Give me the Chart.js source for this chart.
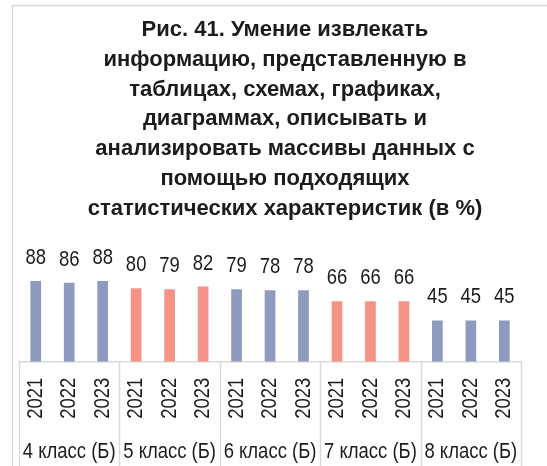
<!DOCTYPE html>
<html lang="ru">
<head>
<meta charset="utf-8">
<title>Рис. 41</title>
<script src="https://cdn.jsdelivr.net/npm/chart.js@4/dist/chart.umd.min.js"></script>
<style>
  html, body { margin: 0; padding: 0; background: #ffffff; }
  #wrap { width: 547px; height: 466px; position: relative; }
</style>
</head>
<body>
<div id="wrap"><canvas id="chart" width="547" height="466"></canvas></div>
<script>
// Classes (outer axis level) and survey years (inner axis level)
const groups = ['4 класс (Б)', '5 класс (Б)', '6 класс (Б)', '7 класс (Б)', '8 класс (Б)'];
const years = ['2021', '2022', '2023'];
// Share of students (%) for each class, by year
const values = [
  88, 86, 88,
  80, 79, 82,
  79, 78, 78,
  66, 66, 66,
  45, 45, 45
];
const titleLines = [
  'Рис. 41. Умение извлекать',
  'информацию, представленную в',
  'таблицах, схемах, графиках,',
  'диаграммах, описывать и',
  'анализировать массивы данных с',
  'помощью подходящих',
  'статистических характеристик (в %)'
];

const FONT = "'Liberation Sans', Arial, sans-serif";
const NARROW = 0.84;           // horizontal squeeze for a condensed look of axis/value text
const groupColors = ['#8F9BBE', '#F69387'];
const gridGrey = '#d9d9d9';
const textColor = '#1c1c1c';

const yearLabels = [];
const barColors = [];
groups.forEach((g, gi) => {
  years.forEach(y => {
    yearLabels.push(y);
    barColors.push(groupColors[gi % 2]);
  });
});

const canvas = document.getElementById('chart');
const ctx2d = canvas.getContext('2d');
const nativeFillText = ctx2d.fillText.bind(ctx2d);
// Condensed text: squeeze each string horizontally around its anchor point
ctx2d.fillText = function (text, x, y) {
  this.save();
  this.translate(x, y);
  this.scale(NARROW, 1);
  nativeFillText(text, 0, 0);
  this.restore();
};

// Outer frame and multi-line heading
const framePlugin = {
  id: 'frame',
  beforeDraw(chart) {
    const ctx = chart.ctx;
    ctx.save();
    ctx.fillStyle = '#ffffff';
    ctx.fillRect(0, 0, chart.width, chart.height);
    ctx.strokeStyle = gridGrey;
    ctx.lineWidth = 1.5;
    ctx.beginPath();
    ctx.moveTo(12.5, chart.height);
    ctx.lineTo(12.5, 5.5);
    ctx.lineTo(chart.width, 5.5);
    ctx.stroke();

    ctx.fillStyle = textColor;
    ctx.font = 'bold 22px ' + FONT;
    ctx.textAlign = 'center';
    ctx.textBaseline = 'alphabetic';
    titleLines.forEach((line, i) => {
      nativeFillText(line, 285, 36 + i * 29.8);
    });
    ctx.restore();
  }
};

// Vertical separators between class groups on the two-level axis
const separatorPlugin = {
  id: 'separators',
  afterDraw(chart) {
    const x = chart.scales.x;
    const ctx = chart.ctx;
    const step = x.getPixelForValue(1) - x.getPixelForValue(0);
    ctx.save();
    ctx.strokeStyle = gridGrey;
    ctx.lineWidth = 1.5;
    for (let g = 0; g <= groups.length; g++) {
      const idx = g * years.length;
      const px = Math.round(x.getPixelForValue(idx) - step / 2) + 0.5;
      ctx.beginPath();
      ctx.moveTo(px, x.top);
      ctx.lineTo(px, chart.height);
      ctx.stroke();
    }
    ctx.restore();
  }
};

// Value labels above each bar
const valueLabelPlugin = {
  id: 'valueLabels',
  afterDatasetsDraw(chart) {
    const ctx = chart.ctx;
    const meta = chart.getDatasetMeta(0);
    ctx.save();
    ctx.font = '22px ' + FONT;
    ctx.fillStyle = textColor;
    ctx.textAlign = 'center';
    ctx.textBaseline = 'alphabetic';
    meta.data.forEach((bar, i) => {
      ctx.fillText(String(values[i]), bar.x, bar.y - 17);
    });
    ctx.restore();
  }
};

new Chart(canvas, {
  type: 'bar',
  data: {
    labels: yearLabels,
    datasets: [{
      data: values,
      backgroundColor: barColors,
      borderWidth: 0,
      categoryPercentage: 1,
      barPercentage: 0.32
    }]
  },
  options: {
    responsive: false,
    animation: false,
    devicePixelRatio: 1,
    layout: { padding: { left: 0, right: 8, top: 270, bottom: 0 } },
    plugins: {
      legend: { display: false },
      tooltip: { enabled: false },
      title: { display: false }
    },
    scales: {
      y: {
        min: 0,
        max: 100,
        display: true,
        grid: { display: false },
        border: { display: false },
        ticks: { display: false },
        afterFit(s) { s.width = 19; }
      },
      x: {
        position: 'bottom',
        weight: 0,
        offset: true,
        grid: { display: false, drawTicks: false },
        border: { display: true, color: gridGrey, width: 1.5 },
        ticks: {
          color: textColor,
          font: { family: FONT, size: 22 },
          minRotation: 90,
          maxRotation: 90,
          padding: 16,
          autoSkip: false
        },
        afterFit(s) { s.height = 70; }
      },
      x2: {
        type: 'category',
        position: 'bottom',
        weight: 1,
        labels: groups,
        offset: true,
        grid: { display: false, drawTicks: false },
        border: { display: false },
        ticks: {
          color: textColor,
          font: { family: FONT, size: 22 },
          maxRotation: 0,
          minRotation: 0,
          padding: 7,
          autoSkip: false
        },
        afterFit(s) { s.height = 34.3; }
      }
    }
  },
  plugins: [framePlugin, separatorPlugin, valueLabelPlugin]
});
</script>
</body>
</html>
